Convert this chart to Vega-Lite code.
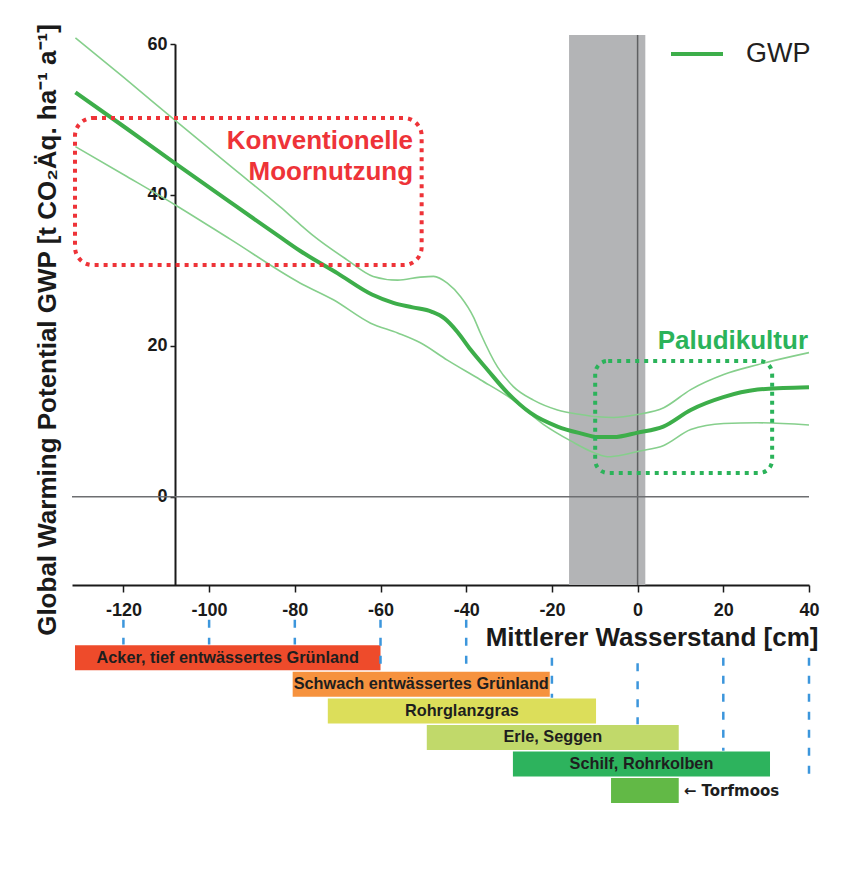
{
  "$schema": "https://vega.github.io/schema/vega-lite/v6.json",
  "width": 737,
  "height": 550,
  "autosize": {"type": "none"},
  "padding": {"left": 72, "top": 35, "right": 53, "bottom": 285},
  "background": "#ffffff",
  "config": {
    "view": {"stroke": null},
    "font": "Liberation Sans",
    "axis": {"grid": false, "domainColor": "#1a1a1a", "tickColor": "#1a1a1a", "labelColor": "#1a1a1a", "titleColor": "#1a1a1a", "labelFont": "Liberation Sans", "titleFont": "Liberation Sans", "labelFontWeight": "bold", "titleFontWeight": "bold"}
  },
  "datasets": {
    "kurven": [
      {"kurve":"GWP","wl":-131.2,"gwp":53.6},{"kurve":"GWP","wl":-120,"gwp":49.1},{"kurve":"GWP","wl":-108,"gwp":44.2},{"kurve":"GWP","wl":-95,"gwp":39.0},{"kurve":"GWP","wl":-83.4,"gwp":34.4},{"kurve":"GWP","wl":-78.8,"gwp":32.6},{"kurve":"GWP","wl":-70,"gwp":29.6},{"kurve":"GWP","wl":-62,"gwp":26.8},{"kurve":"GWP","wl":-57,"gwp":25.7},{"kurve":"GWP","wl":-52.5,"gwp":25.1},{"kurve":"GWP","wl":-48,"gwp":24.5},{"kurve":"GWP","wl":-45,"gwp":23.6},{"kurve":"GWP","wl":-42,"gwp":21.8},{"kurve":"GWP","wl":-39,"gwp":19.5},{"kurve":"GWP","wl":-35,"gwp":16.8},{"kurve":"GWP","wl":-30.4,"gwp":13.8},{"kurve":"GWP","wl":-25,"gwp":11.1},{"kurve":"GWP","wl":-18.7,"gwp":9.3},{"kurve":"GWP","wl":-13.3,"gwp":8.4},{"kurve":"GWP","wl":-9.3,"gwp":7.9},{"kurve":"GWP","wl":-5.6,"gwp":7.9},{"kurve":"GWP","wl":0,"gwp":8.5},{"kurve":"GWP","wl":6,"gwp":9.3},{"kurve":"GWP","wl":12.4,"gwp":11.5},{"kurve":"GWP","wl":20,"gwp":13.2},{"kurve":"GWP","wl":28,"gwp":14.2},{"kurve":"GWP","wl":34,"gwp":14.4},{"kurve":"GWP","wl":40,"gwp":14.5},
      {"kurve":"oben","wl":-131.2,"gwp":60.8},{"kurve":"oben","wl":-120,"gwp":55.6},{"kurve":"oben","wl":-108,"gwp":49.9},{"kurve":"oben","wl":-95,"gwp":43.8},{"kurve":"oben","wl":-83.4,"gwp":38.4},{"kurve":"oben","wl":-78.8,"gwp":36.1},{"kurve":"oben","wl":-75.7,"gwp":34.6},{"kurve":"oben","wl":-67.8,"gwp":31.4},{"kurve":"oben","wl":-61.7,"gwp":29.2},{"kurve":"oben","wl":-56,"gwp":28.7},{"kurve":"oben","wl":-50.7,"gwp":29.1},{"kurve":"oben","wl":-47.6,"gwp":29.2},{"kurve":"oben","wl":-44.4,"gwp":28.3},{"kurve":"oben","wl":-41.3,"gwp":26.5},{"kurve":"oben","wl":-38.3,"gwp":23.8},{"kurve":"oben","wl":-36.7,"gwp":21.7},{"kurve":"oben","wl":-32.7,"gwp":17.2},{"kurve":"oben","wl":-29,"gwp":14.6},{"kurve":"oben","wl":-24.3,"gwp":12.8},{"kurve":"oben","wl":-18.7,"gwp":11.5},{"kurve":"oben","wl":-13.3,"gwp":10.9},{"kurve":"oben","wl":-9.3,"gwp":10.6},{"kurve":"oben","wl":-5.6,"gwp":10.5},{"kurve":"oben","wl":0,"gwp":10.9},{"kurve":"oben","wl":6.1,"gwp":11.8},{"kurve":"oben","wl":12.4,"gwp":14.2},{"kurve":"oben","wl":20.1,"gwp":16.2},{"kurve":"oben","wl":28,"gwp":17.5},{"kurve":"oben","wl":40,"gwp":19.1},
      {"kurve":"unten","wl":-131.2,"gwp":46.4},{"kurve":"unten","wl":-120,"gwp":42.7},{"kurve":"unten","wl":-108,"gwp":38.7},{"kurve":"unten","wl":-95,"gwp":34.1},{"kurve":"unten","wl":-78.7,"gwp":28.3},{"kurve":"unten","wl":-71,"gwp":26.1},{"kurve":"unten","wl":-62.3,"gwp":23.0},{"kurve":"unten","wl":-56,"gwp":21.7},{"kurve":"unten","wl":-50.7,"gwp":20.4},{"kurve":"unten","wl":-44.4,"gwp":18.1},{"kurve":"unten","wl":-36.7,"gwp":15.5},{"kurve":"unten","wl":-29,"gwp":12.8},{"kurve":"unten","wl":-22,"gwp":9.6},{"kurve":"unten","wl":-15.6,"gwp":7.4},{"kurve":"unten","wl":-10,"gwp":5.8},{"kurve":"unten","wl":-7,"gwp":5.3},{"kurve":"unten","wl":-3,"gwp":5.6},{"kurve":"unten","wl":0,"gwp":6.0},{"kurve":"unten","wl":6.1,"gwp":6.8},{"kurve":"unten","wl":12.4,"gwp":8.9},{"kurve":"unten","wl":20.1,"gwp":9.7},{"kurve":"unten","wl":28,"gwp":9.8},{"kurve":"unten","wl":40,"gwp":9.5}
    ],
    "nutzung": [
      {"typ":"Acker, tief entwässertes Grünland","label":"Acker, tief entwässertes Grünland","von":-131.3,"bis":-60,"lane":1},
      {"typ":"Schwach entwässertes Grünland","label":"Schwach entwässertes Grünland","von":-80.5,"bis":-20.5,"lane":2},
      {"typ":"Rohrglanzgras","label":"Rohrglanzgras","von":-72.3,"bis":-9.7,"lane":3},
      {"typ":"Erle, Seggen","label":"Erle, Seggen","von":-49.2,"bis":9.6,"lane":4},
      {"typ":"Schilf, Rohrkolben","label":"Schilf, Rohrkolben","von":-29.1,"bis":30.9,"lane":5},
      {"typ":"Torfmoos","label":"← Torfmoos","von":-6.2,"bis":9.6,"lane":6}
    ]
  },
  "layer": [
    {
      "layer": [
        {
          "data": {"values": [{"von": -16, "bis": 1.8}]},
          "mark": {"type": "rect", "color": "#b3b4b6"},
          "encoding": {"x": {"field": "von", "type": "quantitative"}, "x2": {"field": "bis"}}
        },
        {
          "data": {"values": [{"wl": 0}]},
          "mark": {"type": "rule", "color": "#5f6062", "strokeWidth": 1.5},
          "encoding": {"x": {"field": "wl", "type": "quantitative"}}
        },
        {
          "data": {"values": [{"gwp": 0}]},
          "mark": {"type": "rule", "color": "#6d6e71", "strokeWidth": 1.5},
          "encoding": {"y": {"field": "gwp", "type": "quantitative"}}
        },
        {
          "data": {"name": "kurven"},
          "transform": [{"filter": "datum.kurve !== 'GWP'"}],
          "mark": {"type": "line", "color": "#86cf8c", "strokeWidth": 1.6, "interpolate": "monotone"},
          "encoding": {
            "x": {"field": "wl", "type": "quantitative"},
            "y": {"field": "gwp", "type": "quantitative"},
            "detail": {"field": "kurve"}
          }
        },
        {
          "data": {"name": "kurven"},
          "transform": [{"filter": "datum.kurve === 'GWP'"}],
          "mark": {"type": "line", "strokeWidth": 4, "interpolate": "monotone"},
          "encoding": {
            "x": {
              "field": "wl", "type": "quantitative",
              "scale": {"domain": [-132, 40], "nice": false, "zero": false},
              "axis": {"values": [-120, -100, -80, -60, -40, -20, 0, 20, 40], "labelExpr": "'' + datum.value", "labelFontSize": 18, "labelPadding": 9, "labelFlush": false, "tickSize": 7, "tickWidth": 1.5, "domainWidth": 2, "title": "Mittlerer Wasserstand [cm]", "titleFontSize": 26, "titleX": 746, "titleY": 60, "titleAlign": "right", "titleBaseline": "alphabetic"}
            },
            "y": {
              "field": "gwp", "type": "quantitative",
              "scale": {"domain": [-11.7, 60], "range": [550, 9], "nice": false, "zero": false},
              "axis": {"orient": "left", "offset": -103, "values": [0, 20, 40, 60], "labelFontSize": 18, "labelPadding": 3, "labelFlush": false, "tickSize": 5, "tickWidth": 1.5, "domainWidth": 2, "title": "Global Warming Potential GWP [t CO₂Äq. ha⁻¹ a⁻¹]", "titleFontSize": 26, "titleX": -127.5, "titleY": 294.5, "titleAngle": 270, "titleAlign": "center", "titleBaseline": "middle"}
            },
            "color": {
              "datum": "GWP",
              "scale": {"range": ["#3dae4a"]},
              "legend": {"orient": "none", "legendX": 597, "legendY": -9, "title": null, "symbolType": "stroke", "symbolSize": 2704, "symbolStrokeWidth": 4, "labelFontSize": 27, "labelFont": "Liberation Sans", "labelFontWeight": "normal", "labelColor": "#231f20", "labelOffset": 21, "padding": 0}
            }
          }
        },
        {
          "data": {"values": [{"bereich": "Konventionelle Moornutzung", "von": -131.3, "bis": -50.4, "unten": 30.7, "oben": 50.2}]},
          "mark": {"type": "rect", "filled": false, "color": "#ee3338", "strokeWidth": 4, "strokeDash": [4, 5], "cornerRadius": 18},
          "encoding": {"x": {"field": "von", "type": "quantitative"}, "x2": {"field": "bis"}, "y": {"field": "unten", "type": "quantitative"}, "y2": {"field": "oben"}}
        },
        {
          "data": {"values": [{"bereich": "Paludikultur", "von": -9.9, "bis": 31.4, "unten": 3.15, "oben": 18.0}]},
          "mark": {"type": "rect", "filled": false, "color": "#2bb35a", "strokeWidth": 4, "strokeDash": [4, 5], "cornerRadius": 13},
          "encoding": {"x": {"field": "von", "type": "quantitative"}, "x2": {"field": "bis"}, "y": {"field": "unten", "type": "quantitative"}, "y2": {"field": "oben"}}
        },
        {
          "data": {"values": [{"text": "Konventionelle", "wl": -52.4, "gwp": 46.08}, {"text": "Moornutzung", "wl": -52.4, "gwp": 41.97}]},
          "mark": {"type": "text", "color": "#ee3338", "font": "Liberation Sans", "fontWeight": "bold", "fontSize": 26, "align": "right", "baseline": "alphabetic"},
          "encoding": {"x": {"field": "wl", "type": "quantitative"}, "y": {"field": "gwp", "type": "quantitative"}, "text": {"field": "text"}}
        },
        {
          "data": {"values": [{"text": "Paludikultur", "wl": 39.77, "gwp": 19.58}]},
          "mark": {"type": "text", "color": "#2bb35a", "font": "Liberation Sans", "fontWeight": "bold", "fontSize": 26, "align": "right", "baseline": "alphabetic"},
          "encoding": {"x": {"field": "wl", "type": "quantitative"}, "y": {"field": "gwp", "type": "quantitative"}, "text": {"field": "text"}}
        }
      ]
    },
    {
      "layer": [
        {
          "data": {"name": "nutzung"},
          "mark": {"type": "bar", "size": 25},
          "encoding": {
            "x": {"field": "von", "type": "quantitative"},
            "x2": {"field": "bis"},
            "y": {"field": "lane", "type": "quantitative", "scale": {"domain": [0, 6], "range": [591.3, 760.5], "nice": false, "zero": false}, "axis": null},
            "color": {"field": "typ", "type": "nominal", "scale": {"domain": ["Acker, tief entwässertes Grünland", "Schwach entwässertes Grünland", "Rohrglanzgras", "Erle, Seggen", "Schilf, Rohrkolben", "Torfmoos"], "range": ["#ee4b2b", "#f6923e", "#dcde5a", "#c1d96a", "#2db35d", "#62b946"]}, "legend": null}
          }
        },
        {
          "data": {"values": [
            {"wl": -120, "spur_von": -0.44, "spur_bis": 0.5},
            {"wl": -100, "spur_von": -0.44, "spur_bis": 0.5},
            {"wl": -80, "spur_von": -0.44, "spur_bis": 0.5},
            {"wl": -60, "spur_von": -0.44, "spur_bis": 1.5},
            {"wl": -40, "spur_von": -0.44, "spur_bis": 1.5},
            {"wl": -20, "spur_von": 1, "spur_bis": 2.5},
            {"wl": 0, "spur_von": 1.2, "spur_bis": 3.5},
            {"wl": 20, "spur_von": 1, "spur_bis": 4.5},
            {"wl": 40, "spur_von": 1, "spur_bis": 5.4}
          ]},
          "mark": {"type": "rule", "color": "#3c96dc", "strokeWidth": 2.5, "strokeDash": [8, 10]},
          "encoding": {
            "x": {"field": "wl", "type": "quantitative"},
            "y": {"field": "spur_von", "type": "quantitative", "axis": null},
            "y2": {"field": "spur_bis"}
          }
        },
        {
          "data": {"name": "nutzung"},
          "transform": [{"filter": "datum.lane < 6"}, {"fold": ["von", "bis"], "as": ["grenze", "pos"]}],
          "mark": {"type": "text", "font": "Liberation Sans", "fontWeight": "bold", "fontSize": 16.3, "color": "#1e1e1e", "baseline": "middle", "align": "center"},
          "encoding": {
            "x": {"aggregate": "mean", "field": "pos", "type": "quantitative"},
            "y": {"field": "lane", "type": "quantitative", "axis": null},
            "text": {"field": "label"}
          }
        },
        {
          "data": {"name": "nutzung"},
          "transform": [{"filter": "datum.lane === 6"}],
          "mark": {"type": "text", "font": "DejaVu Sans", "fontWeight": "bold", "fontSize": 15, "color": "#1e1e1e", "baseline": "middle", "align": "left", "dx": 5},
          "encoding": {
            "x": {"field": "bis", "type": "quantitative"},
            "y": {"field": "lane", "type": "quantitative", "axis": null},
            "text": {"field": "label"}
          }
        }
      ]
    }
  ],
  "resolve": {"scale": {"y": "independent", "color": "independent"}, "axis": {"y": "independent"}, "legend": {"color": "independent"}}
}
